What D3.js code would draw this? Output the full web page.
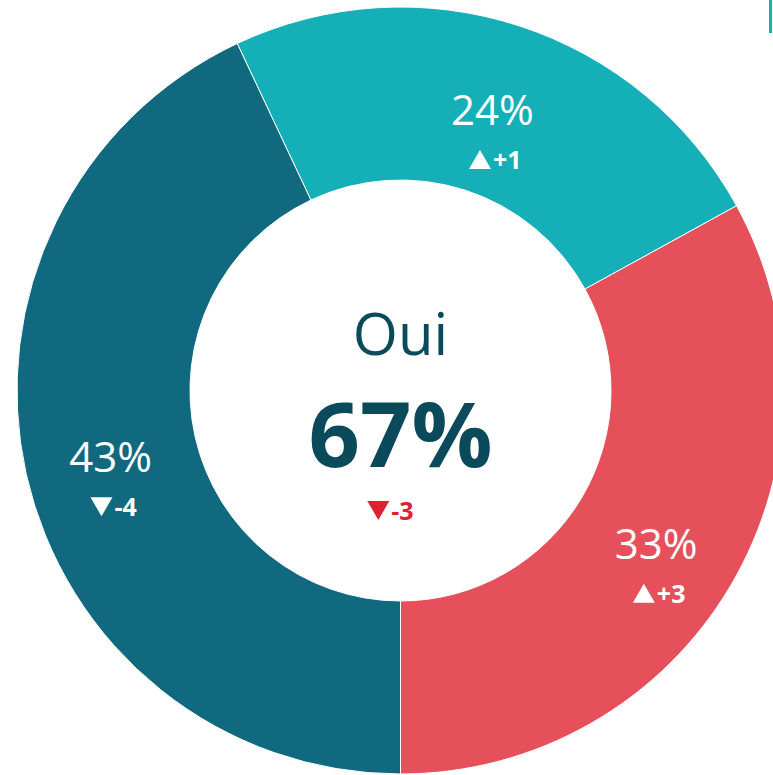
<!DOCTYPE html>
<html>
<head>
<meta charset="utf-8">
<script src="https://cdn.jsdelivr.net/npm/d3@7"></script>
<style>
	html,body{margin:0;padding:0;background:#fff;overflow:hidden;}
	svg{display:block;font-family:"Open Sans",sans-serif;}
</style>
</head>
<body>
<svg id="chart" width="773" height="775"></svg>
<script>
//données du graphique
const categories = ["cat1", "cat2", "cat3"];
const values = [24, 33, 43];
const deltas = [1, 3, -4];
const colors = ["#14AFB7", "#E5505A", "#10697E"];
const centerLabel = "Oui";
const centerValue = 67;
const centerDelta = -3;

const W = 773, H = 775;
const cx = 400.5, cy = 390.5;
const rOuter = 383.5, rInner = 210.5;

const svg = d3.select("#chart");

//petit fragment de légende en haut à droite
svg.append("rect")
	.attr("x", 769).attr("y", 0)
	.attr("width", 3).attr("height", 33)
	.attr("fill", "#14AFB7");

const data = categories.map((c, i) => ({cat: c, v: values[i], d: deltas[i], color: colors[i]}));
//le 2e segment se termine en bas (angle PI)
const start = Math.PI - 2 * Math.PI * (values[0] + values[1]) / d3.sum(values);
const pie = d3.pie().sort(null).value(d => d.v)
	.startAngle(start).endAngle(start + 2 * Math.PI);
const arcs = pie(data);
const arc = d3.arc().innerRadius(rInner).outerRadius(rOuter);
const labelArc = d3.arc().innerRadius(297).outerRadius(297);

const g = svg.append("g").attr("transform", `translate(${cx},${cy})`);

g.selectAll("path.slice")
	.data(arcs)
	.enter()
	.append("path")
	.attr("class", "slice")
	.attr("d", arc)
	.attr("fill", d => d.data.color)
	.attr("stroke", "#fff")
	.attr("stroke-width", 1);

//triangle haut / bas + texte de variation
function deltaLabel(sel, x, y, delta, color, size) {
	const grp = sel.append("g");
	const tw = 22, th = 19;
	const up = delta > 0;
	const txt = grp.append("text")
		.attr("x", tw + 2)
		.attr("y", 0)
		.attr("fill", color)
		.attr("font-weight", 700)
		.attr("font-size", size)
		.text((up ? "+" : "-") + Math.abs(delta));
	grp.append("path")
		.attr("d", up
			? `M0,0 L${tw},0 L${tw / 2},${-th} Z`
			: `M0,${-th} L${tw},${-th} L${tw / 2},0 Z`)
		.attr("fill", color);
	const total = tw + 2 + txt.node().getComputedTextLength();
	grp.attr("transform", `translate(${x - total / 2},${y})`);
}

arcs.forEach(a => {
	const [lx, ly] = labelArc.centroid(a);
	g.append("text")
		.attr("x", lx).attr("y", ly + 17)
		.attr("text-anchor", "middle")
		.attr("fill", "#fff")
		.attr("font-size", 42)
		.text(a.data.v + "%");
	deltaLabel(g, lx + 3, ly + 61, a.data.d, "#fff", 25);
});

//texte central
g.append("text")
	.attr("x", 0).attr("y", 355 - cy)
	.attr("text-anchor", "middle")
	.attr("fill", "#0B4A5A")
	.attr("font-size", 58)
	.text(centerLabel);
g.append("text")
	.attr("x", 0).attr("y", 467 - cy)
	.attr("text-anchor", "middle")
	.attr("fill", "#0B4A5A")
	.attr("font-weight", 700)
	.attr("font-size", 90)
	.text(centerValue + "%");
deltaLabel(g, -10, 520 - cy, centerDelta, "#E02030", 25);
</script>
</body>
</html>
